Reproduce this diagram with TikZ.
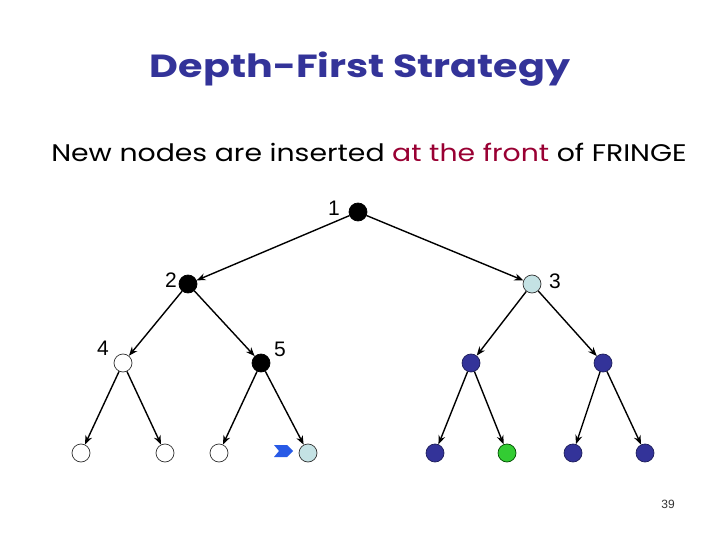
\documentclass[tikz,border=0pt]{standalone}
\usepackage{fontspec}
\setmainfont{Liberation Sans}
\newfontfamily\comicfont{Poppins}
\usetikzlibrary{arrows.meta}
\definecolor{titleblue}{RGB}{51,51,153}
\definecolor{frontred}{RGB}{153,0,51}
\definecolor{nodeblue}{RGB}{51,51,153}
\definecolor{nodeblueline}{RGB}{30,30,90}
\definecolor{lightcyan}{RGB}{196,226,228}
\definecolor{leafgreen}{RGB}{51,204,51}
\definecolor{chevblue}{RGB}{40,90,230}
\tikzset{
  tn/.style={circle, inner sep=0pt, minimum size=18bp, draw=black, line width=0.7bp},
  blacknode/.style={tn, fill=black},
  whitenode/.style={tn, fill=white, draw=black!80},
  cyannode/.style={tn, fill=lightcyan, draw=black!80},
  bluenode/.style={tn, fill=nodeblue, draw=nodeblueline},
  greennode/.style={tn, fill=leafgreen, draw=black!70!green},
  lbl/.style={font=\fontsize{21bp}{24bp}\selectfont, inner sep=0pt},
  edge/.style={line width=1.4bp, -{Stealth[length=9bp,width=7bp]}}
}
\begin{document}
\begin{tikzpicture}[x=1bp,y=-1bp]
\useasboundingbox (0,0) rectangle (720,540);
\fill[white] (0,0) rectangle (720,540);
\node[inner sep=0pt, text=titleblue, font=\comicfont\bfseries\fontsize{32bp}{36bp}\selectfont] (title) at (360,69) {\scalebox{1.24}[1]{Depth-First Strategy}};
\node[inner sep=0pt, font=\comicfont\fontsize{24bp}{28bp}\selectfont] (sub) at (369,152) {\scalebox{1.18}[1]{New nodes are inserted \textcolor{frontred}{at the front} of FRINGE}};
% tree nodes
\node[blacknode] (n1) at (358,212) {};
\node[blacknode] (n2) at (188,284) {};
\node[cyannode] (n3) at (532,284) {};
\node[whitenode] (n4) at (123,363) {};
\node[blacknode] (n5) at (261,363) {};
\node[bluenode] (n6) at (471,363) {};
\node[bluenode] (n7) at (603,363) {};
\node[whitenode] (l1) at (81,453) {};
\node[whitenode] (l2) at (165,453) {};
\node[whitenode] (l3) at (219,453) {};
\node[cyannode] (l4) at (308,453) {};
\node[bluenode] (l5) at (435,453) {};
\node[greennode] (l6) at (507,453) {};
\node[bluenode] (l7) at (573,453) {};
\node[bluenode] (l8) at (645,453) {};
% labels
\node[lbl] (t1) at (334,208) {1};
\node[lbl] (t2) at (171,280) {2};
\node[lbl] (t3) at (555,281) {3};
\node[lbl] (t4) at (103,348) {4};
\node[lbl] (t5) at (280,349) {5};
% edges
\draw[edge] (n1) -- (n2);
\draw[edge] (n1) -- (n3);
\draw[edge] (n2) -- (n4);
\draw[edge] (n2) -- (n5);
\draw[edge] (n3) -- (n6);
\draw[edge] (n3) -- (n7);
\draw[edge] (n4) -- (l1);
\draw[edge] (n4) -- (l2);
\draw[edge] (n5) -- (l3);
\draw[edge] (n5) -- (l4);
\draw[edge] (n6) -- (l5);
\draw[edge] (n6) -- (l6);
\draw[edge] (n7) -- (l7);
\draw[edge] (n7) -- (l8);
% chevron
\fill[chevblue] (274,445) -- (287,445) -- (293,451) -- (287,457) -- (274,457) -- (279,451) -- cycle;
% page number
\node[inner sep=0pt, font=\fontsize{12bp}{14bp}\selectfont, text=black!80] (pg) at (668,504) {39};
\end{tikzpicture}
\end{document}
